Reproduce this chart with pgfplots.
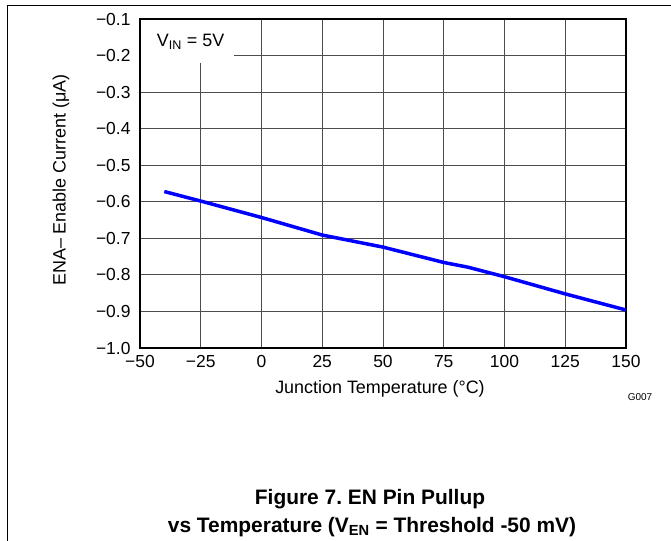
\documentclass[border=0pt]{standalone}
\usepackage{fontspec}
\setmainfont{Liberation Sans}
\usepackage{pgfplots}
\pgfplotsset{compat=1.18}
\frenchspacing

\pgfplotstableread{
T I
-40 -0.572
-25 -0.598
0 -0.643
25 -0.691
50 -0.724
75 -0.766
85 -0.779
100 -0.805
125 -0.852
150 -0.896
}\enable

\begin{document}
\begin{tikzpicture}
\path[use as bounding box] (-140bp,-193bp) rectangle (531bp,348bp);
\draw[line width=1bp] (-132bp,-193bp) -- (-132bp,342bp) -- (531bp,342bp);
\begin{axis}[
  at={(0,0)}, anchor=south west,
  scale only axis, width=486bp, height=329bp,
  xmin=-50, xmax=150, ymin=-1.0, ymax=-0.1,
  xtick={-50,-25,...,150},
  xticklabels={−50,−25,0,25,50,75,100,125,150},
  ytick={-1.0,-0.9,...,-0.1},
  yticklabels={−1.0,−0.9,−0.8,−0.7,−0.6,−0.5,−0.4,−0.3,−0.2,−0.1},
  major tick length=0pt,
  tick label style={font=\fontsize{17.5}{20}\selectfont},
  xticklabel style={yshift=-4bp},
  yticklabel style={xshift=-6bp},
  grid=major,
  major grid style={black!70, line width=0.8bp},
  axis line style={line width=2bp},
]
\addplot[blue, line width=3.5bp] table[x=T, y=I] {\enable};
\fill[white] (axis cs:-49.5,-0.1033) rectangle (axis cs:-11.3,-0.219);
\node[anchor=west, font=\fontsize{18}{20}\selectfont] at (axis cs:-44.5,-0.163) {V\textsubscript{IN} = 5V};
\end{axis}
\node[rotate=90, font=\fontsize{18}{20}\selectfont] at (-79bp,168bp) {ENA– Enable Current (μA)};
\node[font=\fontsize{18}{20}\selectfont] at (240bp,-41bp) {Junction Temperature (°C)};
\node[font=\fontsize{10}{12}\selectfont] at (500bp,-49bp) {G007};
\node[font=\fontsize{21}{24}\selectfont\bfseries] at (230bp,-151bp) {Figure 7.\ EN Pin Pullup};
\node[font=\fontsize{21}{24}\selectfont\bfseries] at (232bp,-179bp) {vs Temperature (V\textsubscript{EN} = Threshold -50 mV)};
\end{tikzpicture}
\end{document}
